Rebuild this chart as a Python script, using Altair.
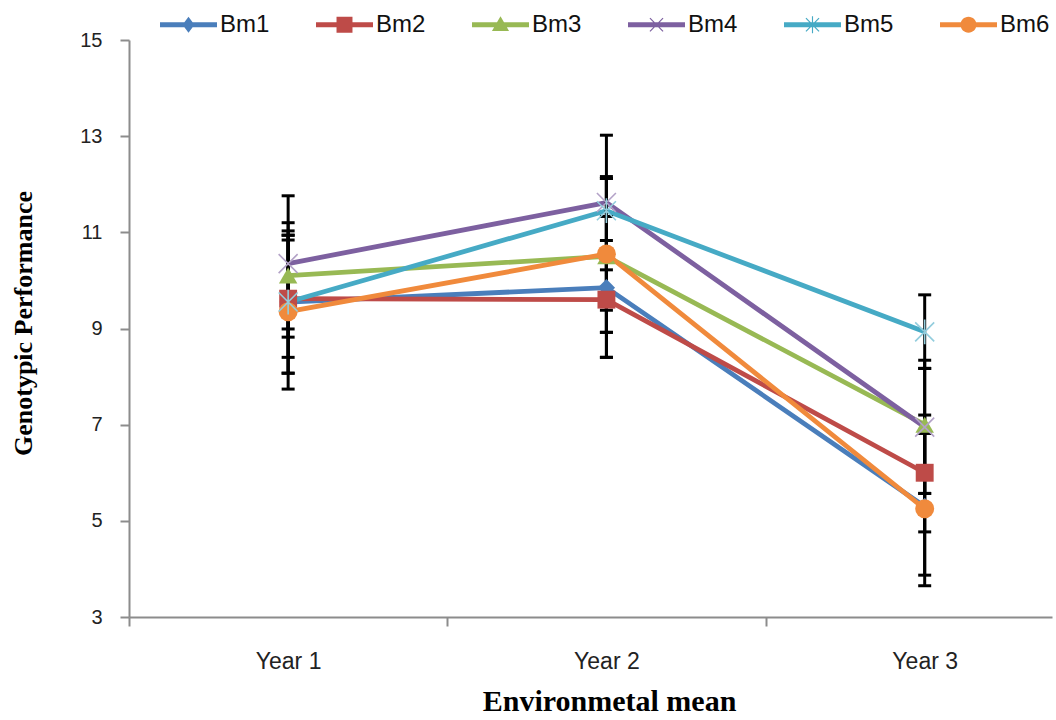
import altair as alt
import pandas as pd

# ---------------- data ----------------
series = ["Bm1", "Bm2", "Bm3", "Bm4", "Bm5", "Bm6"]
years = ["Year 1", "Year 2", "Year 3"]
year_pos = [1, 2, 3]

means = {
    "Bm1": [9.55, 9.85, 5.30],
    "Bm2": [9.62, 9.60, 6.00],
    "Bm3": [10.10, 10.50, 7.00],
    "Bm4": [10.35, 11.62, 6.95],
    "Bm5": [9.55, 11.45, 8.93],
    "Bm6": [9.35, 10.55, 5.25],
}
lows = {
    "Bm1": [8.07, 8.40, 3.87],
    "Bm2": [8.40, 8.40, 4.77],
    "Bm3": [8.82, 8.92, 5.57],
    "Bm4": [8.99, 10.22, 5.57],
    "Bm5": [8.07, 9.38, 8.17],
    "Bm6": [7.74, 8.92, 3.65],
}
highs = {
    "Bm1": [11.03, 11.33, 6.82],
    "Bm2": [10.84, 10.83, 7.20],
    "Bm3": [11.20, 12.12, 8.34],
    "Bm4": [11.76, 13.02, 8.17],
    "Bm5": [10.94, 12.16, 9.70],
    "Bm6": [10.94, 12.12, 6.82],
}
y_ticks = [3, 5, 7, 9, 11, 13, 15]

colors = ["#4A7EBB", "#BE4B48", "#98B954", "#7D60A0", "#46AAC5", "#F08A3C"]
light_marker = {"Bm4": "#B3A2C7", "Bm5": "#93CDDD"}

rows = []
for s in series:
    for i, yp in enumerate(year_pos):
        rows.append({"series": s, "yi": yp, "year": years[i],
                     "mean": means[s][i], "lo": lows[s][i], "hi": highs[s][i]})
df = pd.DataFrame(rows)
caps = pd.concat([
    df[["series", "yi"]].assign(v=df["lo"]),
    df[["series", "yi"]].assign(v=df["hi"]),
], ignore_index=True)

filled_series = ["Bm1", "Bm2", "Bm3", "Bm6"]
stroke_series = ["Bm4", "Bm5"]
df_filled = df[df["series"].isin(filled_series)]
df_stroke = df[df["series"].isin(stroke_series)]

# ---------------- styles ----------------
LABEL_FONT = "Liberation Sans Narrow, Arial Narrow, Liberation Sans, sans-serif"
TITLE_FONT = "Liberation Serif, Times New Roman, serif"
AXIS_GRAY = "#8C8C8C"

label_expr = " : ".join(
    [f"datum.value === {p} ? '{years[i]}'" for i, p in enumerate(year_pos)]) + " : ''"

x_axis = alt.Axis(
    values=[0.5, 1, 1.5, 2, 2.5, 3],
    labelExpr=label_expr,
    tickOpacity={"condition": {"test": "datum.value % 1 === 0", "value": 0}, "value": 1},
    grid=False, tickSize=9, tickWidth=2, tickColor=AXIS_GRAY,
    domainColor=AXIS_GRAY, domainWidth=2,
    labelFont=LABEL_FONT, labelFontSize=23, labelColor="#222222", labelPadding=24,
    labelFlush=False, labelOverlap=False,
    title="Environmetal mean", titleFont=TITLE_FONT, titleFontSize=30,
    titleFontWeight="bold", titleColor="#000000",
    titleX=480, titleY=93, titleBaseline="alphabetic", titleAlign="center",
)
y_axis = alt.Axis(
    values=y_ticks, grid=False, tickSize=9, tickWidth=2, tickColor=AXIS_GRAY,
    domainColor=AXIS_GRAY, domainWidth=2,
    labelFont=LABEL_FONT, labelFontSize=20, labelColor="#222222", labelPadding=18,
    title="Genotypic Performance", titleFont=TITLE_FONT, titleFontSize=26,
    titleFontWeight="bold", titleColor="#000000",
    titleX=-98, titleY=283, titleBaseline="alphabetic", titleAlign="center",
    titleAngle=270,
)
x_scale = alt.Scale(domain=[0.5, 3.4], nice=False, zero=False)
y_scale = alt.Scale(domain=[3, 15], nice=False, zero=False)
color_scale = alt.Scale(domain=series, range=colors)


def X():
    return alt.X("yi:Q", scale=x_scale, axis=x_axis)


def Y(field):
    return alt.Y(f"{field}:Q", scale=y_scale, axis=y_axis)


base = alt.Chart(df)

lines = base.mark_line(strokeWidth=4.8).encode(
    x=X(), y=Y("mean"),
    color=alt.Color("series:N", scale=color_scale, legend=None),
    order="yi:Q",
)

err = base.mark_rule(color="black", strokeWidth=3).encode(
    x=X(), y=Y("lo"), y2="hi:Q", detail="series:N",
)

cap_marks = alt.Chart(caps).mark_tick(
    color="black", orient="horizontal", size=13, thickness=3, opacity=1
).encode(x=X(), y=Y("v"))

pts_filled = alt.Chart(df_filled).mark_point(filled=True, opacity=1, strokeWidth=0).encode(
    x=X(), y=Y("mean"),
    color=alt.Color("series:N", scale=color_scale, legend=None),
    shape=alt.Shape("series:N", scale=alt.Scale(
        domain=filled_series, range=["diamond", "square", "triangle-up", "circle"]), legend=None),
    size=alt.Size("series:N", scale=alt.Scale(
        domain=filled_series, range=[300, 361, 420, 400]), legend=None),
)

pts_stroke = alt.Chart(df_stroke).mark_point(filled=False, opacity=1, strokeWidth=1.6, size=361).encode(
    x=X(), y=Y("mean"),
    stroke=alt.Stroke("series:N", scale=alt.Scale(
        domain=stroke_series, range=[light_marker[s] for s in stroke_series]), legend=None),
    shape=alt.Shape("series:N", scale=alt.Scale(
        domain=stroke_series,
        range=["M-1,-1L1,1M-1,1L1,-1", "M-1,-1L1,1M-1,1L1,-1M0,-1.3L0,1.3"]), legend=None),
)

# legend symbols: line segment + marker
LINE = "M-1,-0.088L1,-0.088L1,0.088L-1,0.088Z"
legend_paths = [
    LINE + "M0,-0.28L0.21,0L0,0.28L-0.21,0Z",
    LINE + "M-0.28,-0.28L0.28,-0.28L0.28,0.28L-0.28,0.28Z",
    LINE + "M0,-0.3L0.3,0.22L-0.3,0.22Z",
    LINE + "M-0.245,-0.215L-0.215,-0.245L0.245,0.215L0.215,0.245Z"
           "M0.215,-0.245L0.245,-0.215L-0.215,0.245L-0.245,0.215Z",
    LINE + "M-0.245,-0.215L-0.215,-0.245L0.245,0.215L0.215,0.245Z"
           "M0.215,-0.245L0.245,-0.215L-0.215,0.245L-0.245,0.215Z"
           "M-0.02,-0.3L0.02,-0.3L0.02,0.3L-0.02,0.3Z",
    LINE + "M-0.28,0A0.28,0.28,0,1,1,0.28,0A0.28,0.28,0,1,1,-0.28,0Z",
]
legend_layer = base.mark_point(filled=True, opacity=0, size=10, strokeWidth=0).encode(
    x=X(), y=Y("mean"),
    fill=alt.Fill("series:N", scale=alt.Scale(domain=series, range=colors),
                  legend=alt.Legend(title=None)),
    shape=alt.Shape("series:N", scale=alt.Scale(domain=series, range=legend_paths),
                    legend=alt.Legend(title=None)),
)

chart = alt.layer(
    lines, err, cap_marks, pts_filled, pts_stroke, legend_layer
).resolve_scale(
    shape="independent", size="independent", fill="independent", stroke="independent"
).properties(
    width=923, height=577,
    autosize=alt.AutoSizeParams(type="none"),
    padding={"left": 129, "top": 40, "right": 4, "bottom": 103},
    background="white",
).configure_view(
    stroke=None
).configure_legend(
    orient="none", legendX=31, legendY=-44, direction="horizontal",
    columns=6, columnPadding=46, symbolSize=3249, symbolStrokeWidth=0,
    labelFont=LABEL_FONT, labelFontSize=24, labelColor="#111111", labelOffset=3,
    padding=0, symbolOpacity=1, titlePadding=0,
)

chart.save("out.html", embed_options={"renderer": "svg", "actions": False})
